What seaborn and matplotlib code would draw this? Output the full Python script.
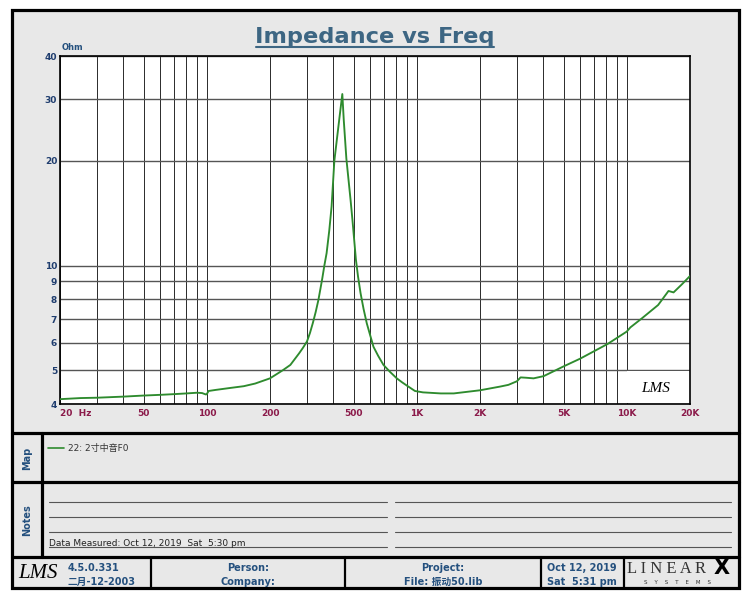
import numpy as np
import pandas as pd
import matplotlib
matplotlib.use("Agg")
import matplotlib.pyplot as plt
import matplotlib.ticker as mticker
from matplotlib.patches import Rectangle
import seaborn as sns

# Impedance curve (Hz, Ohm).
freq_hz = [20, 25, 30, 40, 50, 60, 70, 80, 90, 95, 99, 100, 102, 110, 130, 150,
           170, 200, 230, 250, 275, 287, 300, 310, 320, 330, 340, 348, 355, 363,
           372, 383, 393, 405, 429, 442, 449, 462, 484, 494, 513, 525, 540, 558,
           578, 600, 622, 655, 694, 745, 803, 850, 896, 980, 1070, 1300,
           1500, 2000, 2500, 2730, 3000, 3120, 3300, 3600, 4020, 5000, 6000,
           8100, 10000, 10400, 11800, 14100, 15800, 16700, 18300, 20000]
impedance_ohm = [4.13, 4.16, 4.17, 4.20, 4.23, 4.25, 4.27, 4.29, 4.31, 4.30, 4.26,
                 4.27, 4.36, 4.39, 4.45, 4.50, 4.58, 4.74, 5.00, 5.18, 5.59, 5.80,
                 6.05, 6.40, 6.84, 7.35, 7.96, 8.6, 9.2, 10.0, 10.85, 12.6, 14.8,
                 20.0, 26.8, 31.1, 26.2, 20.3, 15.4, 13.5, 10.4, 9.3, 8.32, 7.5,
                 6.82, 6.3, 5.84, 5.5, 5.18, 4.95, 4.74, 4.62, 4.52, 4.36, 4.32,
                 4.29, 4.29, 4.38, 4.49, 4.54, 4.65, 4.77, 4.76, 4.74, 4.81, 5.13,
                 5.40, 5.95, 6.46, 6.64, 7.05, 7.7, 8.45, 8.37, 8.83, 9.33]

x_grid = [20, 30, 40, 50, 60, 70, 80, 90, 100, 200, 300, 400, 500, 600, 700, 800,
          900, 1000, 2000, 3000, 4000, 5000, 6000, 7000, 8000, 9000, 10000, 20000]
x_labels = {20: "20  Hz", 50: "50", 100: "100", 200: "200", 500: "500",
            1000: "1K", 2000: "2K", 5000: "5K", 10000: "10K", 20000: "20K"}
y_ticks = [4, 5, 6, 7, 8, 9, 10, 20, 30, 40]

title = "Impedance vs Freq"
unit_label = "Ohm"
legend_label = "22: 2寸中音F0"
measured_note = "Data Measured: Oct 12, 2019  Sat  5:30 pm"
version_lines = ["4.5.0.331", "二月-12-2003"]
person_lines = ["Person:", "Company:"]
project_lines = ["Project:", "File: 振动50.lib"]
date_lines = ["Oct 12, 2019", "Sat  5:31 pm"]

sns.set_style("white")
plt.rcParams["font.family"] = ["DejaVu Sans", "Noto Sans CJK SC"]

BLUE = "#24507e"
PANEL = "#e8e8e8"
GREEN = "#2e8b2e"

fig = plt.figure(figsize=(7.5, 6), dpi=100)
fig.patch.set_facecolor("white")

# Page layout drawn in pixel coordinates.
bg = fig.add_axes([0, 0, 1, 1], zorder=0)
bg.set_xlim(0, 750)
bg.set_ylim(600, 0)
bg.axis("off")

bg.add_patch(Rectangle((12, 10), 727, 578, facecolor=PANEL, edgecolor="black", lw=2.3))
for yy in [433, 482, 557]:
    bg.plot([12, 739], [yy, yy], color="black", lw=2.3)
bg.plot([42, 42], [433, 557], color="black", lw=2.3)
for xx in [151, 345, 541, 624]:
    bg.plot([xx, xx], [557, 588], color="black", lw=1.6)

# title with underline
bg.text(375, 43, title, ha="center", va="baseline", fontsize=16.2,
        fontweight="bold", color="#3d6683")
bg.plot([256, 494], [46.5, 46.5], color="#3d6683", lw=1.5)

bg.text(62, 50, unit_label, fontsize=6, fontweight="bold", color=BLUE, va="baseline")

# Map / Notes side labels
bg.text(27, 458, "Map", rotation=90, ha="center", va="center", fontsize=7,
        fontweight="bold", color=BLUE)
bg.text(27, 520, "Notes", rotation=90, ha="center", va="center", fontsize=7,
        fontweight="bold", color=BLUE)

# legend entry in the Map box
bg.plot([48, 64], [448, 448], color=GREEN, lw=1.2)
bg.text(68, 448, legend_label, va="center", fontsize=6.5, color="#333333")

# Notes lines
for yy in [502, 517, 532, 547]:
    bg.plot([49, 387], [yy, yy], color="#555555", lw=0.8)
    bg.plot([395, 731], [yy, yy], color="#555555", lw=0.8)
bg.text(49, 546, measured_note, va="baseline", fontsize=6.5, color="#222222")

# footer
bg.text(38, 574, "LMS", ha="center", va="center", fontsize=15, style="italic",
        family="Liberation Serif", color="black")
bg.text(68, 568, version_lines[0], va="center", fontsize=7, fontweight="bold", color=BLUE)
bg.text(68, 582, version_lines[1], va="center", fontsize=7, fontweight="bold", color=BLUE)
for cx, lines in [(248, person_lines), (443, project_lines), (582, date_lines)]:
    bg.text(cx, 568, lines[0], ha="center", va="center", fontsize=7,
            fontweight="bold", color=BLUE)
    bg.text(cx, 582, lines[1], ha="center", va="center", fontsize=7,
            fontweight="bold", color=BLUE)
bg.text(627, 569, "L I N E A R", va="center", fontsize=12, family="Liberation Serif",
        color="#333333")
bg.text(722, 568, "X", ha="center", va="center", fontsize=15, fontweight="bold",
        color="black")
bg.text(678, 583, "S    Y    S    T    E    M    S", ha="center", va="center",
        fontsize=4, color="#333333")

# Main impedance plot
ax = fig.add_axes([60 / 750, 1 - 404 / 600, 630 / 750, 348 / 600], zorder=2)
ax.set_facecolor("white")
df = pd.DataFrame({"freq": freq_hz, "ohm": impedance_ohm})
sns.lineplot(data=df, x="freq", y="ohm", ax=ax, color=GREEN, lw=1.35,
             estimator=None, sort=False, zorder=3)

ax.set_xscale("log")
ax.set_yscale("log")
ax.set_xlim(20, 20000)
ax.set_ylim(4, 40)

ax.xaxis.set_major_locator(mticker.FixedLocator(x_grid))
ax.xaxis.set_minor_locator(mticker.NullLocator())
ax.set_xticklabels([x_labels.get(v, "") for v in x_grid])
ax.yaxis.set_major_locator(mticker.FixedLocator(y_ticks))
ax.yaxis.set_minor_locator(mticker.NullLocator())
ax.set_yticklabels([str(v) for v in y_ticks])

ax.tick_params(axis="x", length=0, pad=3.5, labelsize=6.5, labelcolor="#8b1a4a")
ax.tick_params(axis="y", length=0, pad=2, labelsize=6.5, labelcolor="#1f3d6e")
for lbl in ax.get_xticklabels() + ax.get_yticklabels():
    lbl.set_fontweight("bold")
ax.get_xticklabels()[0].set_horizontalalignment("left")

ax.grid(True, axis="x", color="#2a2a2a", lw=0.7)
ax.grid(True, axis="y", color="#555555", lw=1.0)
for sp in ax.spines.values():
    sp.set_color("black")
    sp.set_linewidth(1.2)
ax.set_xlabel("")
ax.set_ylabel("")

# LMS logo box inside the plot
ax.add_patch(Rectangle((0.9, 0.003), 0.098, 0.092, transform=ax.transAxes,
                       facecolor="white", edgecolor="none", zorder=2.5))
ax.text(0.945, 0.045, "LMS", transform=ax.transAxes, ha="center", va="center",
        fontsize=11, style="italic", family="Liberation Serif", color="black", zorder=4)

fig.savefig("out.png", dpi=100)
